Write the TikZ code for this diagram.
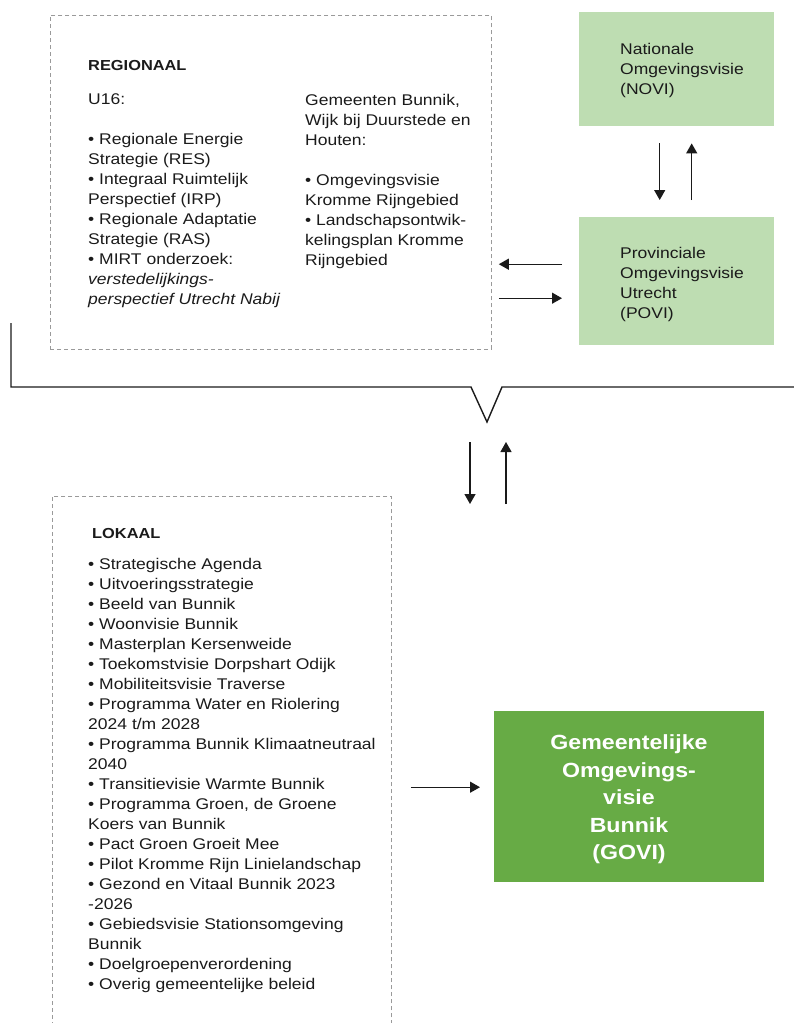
\documentclass[tikz,border=0pt]{standalone}
\usepackage{fontspec}
\setmainfont{Liberation Sans}[FakeStretch=1.13]
\usetikzlibrary{arrows.meta}
\definecolor{lightgreen}{HTML}{BEDDB2}
\definecolor{darkgreen}{HTML}{67AB45}
\definecolor{dashgray}{HTML}{9A9A9A}
\definecolor{ink}{HTML}{1A1A1A}
\begin{document}
\begin{tikzpicture}[x=1pt,y=-1pt,
  dashbox/.style={draw=dashgray, line width=0.8pt, dash pattern=on 4pt off 3pt, inner sep=0pt},
  lightbox/.style={fill=lightgreen, inner sep=0pt},
  txt/.style={inner sep=0pt, align=left, text=ink, font=\fontsize{15.5}{20}\selectfont},
  titletxt/.style={inner sep=0pt, text=ink, font=\fontsize{14.5}{20}\selectfont\bfseries},
  arr/.style={draw=ink, line width=1.3pt, -{Triangle[length=10pt,width=11pt]}},
  bracel/.style={draw=ink, line width=1.4pt}]
\useasboundingbox (0,0) rectangle (794,1023);
% boxes
\node[dashbox, anchor=north west, minimum width=441pt, minimum height=334pt] (regional) at (50,15) {};
\node[lightbox, anchor=north west, minimum width=195pt, minimum height=114pt] (novi) at (579,12) {};
\node[lightbox, anchor=north west, minimum width=195pt, minimum height=128pt] (povi) at (579,217) {};
\node[dashbox, anchor=north west, minimum width=339pt, minimum height=560pt] (lokaal) at (52,496) {};
\node[fill=darkgreen, anchor=north west, minimum width=270pt, minimum height=171pt, inner sep=0pt] (govi) at (494,711) {};
\node[inner sep=0pt, text=white, align=center, font=\fontsize{20.5}{27.5}\selectfont\bfseries] (govitext) at (629,799.5)
  {Gemeentelijke\\Omgevings-\\visie\\Bunnik\\(GOVI)};
% texts
\node[titletxt, anchor=north west] (regtitle) at (88,60.6) {REGIONAAL};
\node[txt, anchor=north west] (regleft) at (88,93.6) {U16:\\[20pt]
• Regionale Energie\\Strategie (RES)\\• Integraal Ruimtelijk\\Perspectief (IRP)\\
• Regionale Adaptatie\\Strategie (RAS)\\• MIRT onderzoek:\\
\itshape verstedelijkings-\\\itshape perspectief Utrecht Nabij};
\node[txt, anchor=north west] (regright) at (305,93.6) {Gemeenten Bunnik,\\Wijk bij Duurstede en\\Houten:\\[20pt]
• Omgevingsvisie\\Kromme Rijngebied\\• Landschapsontwik-\\kelingsplan Kromme\\Rijngebied};
\node[txt, anchor=north west] (novitext) at (620,42.6) {Nationale\\Omgevingsvisie\\(NOVI)};
\node[txt, anchor=north west] (povitext) at (620,246.8) {Provinciale\\Omgevingsvisie\\Utrecht\\(POVI)};
\node[titletxt, anchor=north west] (loktitle) at (92,528.6) {LOKAAL};
\node[txt, anchor=north west] (loklist) at (88,557.8) {• Strategische Agenda\\
• Uitvoeringsstrategie\\
• Beeld van Bunnik\\
• Woonvisie Bunnik\\
• Masterplan Kersenweide\\
• Toekomstvisie Dorpshart Odijk\\
• Mobiliteitsvisie Traverse\\
• Programma Water en Riolering\\
2024 t/m 2028\\
• Programma Bunnik Klimaatneutraal\\
2040\\
• Transitievisie Warmte Bunnik\\
• Programma Groen, de Groene\\
Koers van Bunnik\\
• Pact Groen Groeit Mee\\
• Pilot Kromme Rijn Linielandschap\\
• Gezond en Vitaal Bunnik 2023\\
-2026\\
• Gebiedsvisie Stationsomgeving\\
Bunnik\\
• Doelgroepenverordening\\
• Overig gemeentelijke beleid};
% brace line
\coordinate (bstart) at (11,323);
\coordinate (tip) at (487,422);
\draw[bracel] (bstart) -- (11,387) -- (471,387) -- (tip) -- (502,387) -- (794,387);
% arrows NOVI <-> POVI
\draw[arr, shorten <=17pt, shorten >=17pt] ([xshift=-17pt]novi.south) -- ([xshift=-17pt]povi.north);
\draw[arr, shorten <=17pt, shorten >=17pt] ([xshift=15pt]povi.north) -- ([xshift=15pt]novi.south);
% arrows POVI <-> regional
\coordinate (pwa) at ([yshift=17pt]povi.west);
\coordinate (pwb) at ([yshift=-17pt]povi.west);
\draw[arr, shorten <=17pt, shorten >=7pt] (pwa) -- (regional.east |- pwa);
\draw[arr, shorten <=7pt, shorten >=17pt] (regional.east |- pwb) -- (pwb);
% arrows between brace and lokaal
\coordinate (d1) at (470,442);
\coordinate (d2) at (470,504);
\coordinate (u1) at (506,504);
\coordinate (u2) at (506,442);
\draw[arr] (d1) -- (d2);
\draw[arr] (u1) -- (u2);
% lokaal -> govi
\coordinate (gw) at ([yshift=9.5pt]govi.west);
\draw[arr, shorten <=19pt, shorten >=14pt] (lokaal.east |- gw) -- (gw);
\end{tikzpicture}
\end{document}
